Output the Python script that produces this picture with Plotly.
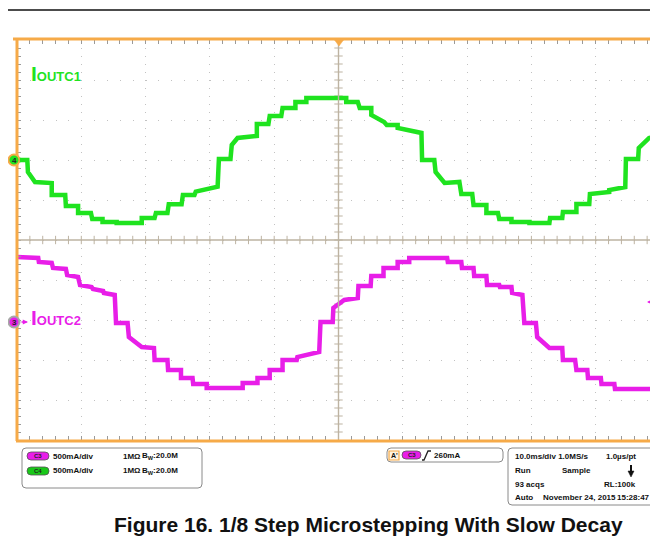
import numpy as np
import plotly.graph_objects as go

# ---------------- data (read from the scope capture) ----------------
# time in ms (10 ms/div, screen starts at 0), current in mA (500 mA/div)
t_c4 = [0, 1.6, 1.7, 2.8, 5.4, 5.4, 7.5, 7.6, 9.5, 9.5, 11.5, 11.7, 13.3, 13.3, 15.5, 15.5,
        19.4, 19.4, 21.4, 21.6, 23.4, 23.6, 25.6, 25.8, 27.6, 27.8, 31.2, 31.4, 33.2, 33.4,
        34.3, 37.3, 37.3, 39.1, 39.3, 41.1, 41.3, 43.3, 43.3, 45.0, 45.0, 47.4, 47.4, 49.4,
        49.4, 51.2, 51.2, 53.0, 53.3, 55.1, 55.1, 57.1, 57.5, 59.2, 59.2, 62.9, 63.0, 64.9,
        65.1, 66.5, 68.8, 69.1, 70.8, 71.0, 73.0, 73.0, 74.8, 75.0, 76.9, 76.9, 79.7, 79.7,
        82.8, 82.9, 84.8, 84.9, 87.0, 87.0, 89.0, 89.1, 92.1, 92.1, 94.6, 94.7, 96.6, 96.7,
        98.3, 99.7]
i_c4 = [0, 0, -150, -275, -288, -438, -438, -575, -575, -663, -663, -738, -738, -775, -775, -788,
        -788, -725, -725, -663, -663, -553, -553, -438, -438, -396, -333, 13, 13, 188,
        275, 300, 450, 450, 550, 550, 650, 650, 725, 725, 775, 775, 788, 788,
        775, 775, 725, 725, 650, 650, 563, 475, 438, 438, 400, 338, 0, 0,
        -150, -288, -275, -425, -425, -563, -563, -663, -663, -738, -738, -775, -775, -788,
        -788, -725, -725, -650, -650, -550, -550, -425, -400, -375, -338, 13, 13, 150,
        275, 300]

t_c3 = [0, 3.3, 3.4, 5.4, 5.6, 7.6, 7.8, 9.5, 9.8, 11.6, 11.8, 13.4, 13.5, 15.2, 15.4, 17.2,
        17.4, 19.4, 21.3, 21.4, 23.4, 23.5, 25.5, 25.5, 27.3, 27.4, 29.5, 29.5, 35.1, 35.1,
        37.4, 37.4, 39.3, 39.3, 41.3, 41.3, 43.5, 43.6, 47.0, 47.2, 49.1, 49.2, 50.9, 53.0,
        53.1, 55.0, 55.1, 57.0, 57.0, 59.2, 59.2, 61.0, 61.0, 63.4, 63.4, 65.7, 66.9, 67.0,
        69.1, 69.2, 71.0, 71.1, 73.0, 73.1, 75.0, 75.1, 76.9, 77.0, 78.6, 78.9, 80.7, 80.9,
        82.8, 84.8, 84.9, 86.8, 87.0, 88.7, 88.8, 90.8, 90.9, 92.9, 93.0, 98.8, 98.9, 99.7]
i_c3 = [813, 800, 750, 738, 675, 663, 588, 563, 463, 438, 413, 388, 363, 338, -13, -13,
        -188, -313, -325, -475, -475, -600, -600, -700, -700, -775, -775, -825, -825, -763,
        -763, -700, -700, -600, -600, -475, -475, -438, -375, 0, 0, 175, 275, 300,
        450, 450, 575, 575, 675, 675, 750, 750, 800, 800, 813, 813, 800, 750,
        750, 675, 675, 575, 575, 463, 463, 438, 438, 363, 338, -13, -13, -188,
        -325, -325, -475, -475, -600, -600, -700, -700, -775, -775, -838, -838, -763, -763]

trigger_level_ma = 260
channel_labels = ["I<span style='font-size:13px'>OUTC1</span>",
                  "I<span style='font-size:13px'>OUTC2</span>"]
caption = "Figure 16. 1/8 Step Microstepping With Slow Decay"

# ---------------- geometry / style ----------------
PAGE_OFF = 8                 # default body margin of the html page
SW, SH = 658, 550            # screen size
L, T, B = 17, 40, 440        # plot area on screen (px)
PX_PER_MS = 6.43
X_MAX = (SW - L) / PX_PER_MS
GREEN = '#1fe31f'
MAGENTA = '#e81ee8'
ORANGE = '#f6aa48'
CENTER = '#bdb3a2'
FONT = 'Liberation Sans'


def px(x):
    return (x - L) / (SW - L)


def py(y):
    return (B - y) / (B - T)


def rrect(x0, y0, x1, y1, r):
    X, Y = px, py
    return (f"M {X(x0 + r)},{Y(y0)} L {X(x1 - r)},{Y(y0)} Q {X(x1)},{Y(y0)} {X(x1)},{Y(y0 + r)} "
            f"L {X(x1)},{Y(y1 - r)} Q {X(x1)},{Y(y1)} {X(x1 - r)},{Y(y1)} L {X(x0 + r)},{Y(y1)} "
            f"Q {X(x0)},{Y(y1)} {X(x0)},{Y(y1 - r)} L {X(x0)},{Y(y0 + r)} Q {X(x0)},{Y(y0)} {X(x0 + r)},{Y(y0)} Z")


fig = go.Figure()

# center cross tick marks
tick_t = [v for v in np.arange(0, X_MAX, 2) if 0 < v < X_MAX]
fig.add_trace(go.Scatter(x=tick_t, y=[-1000] * len(tick_t), mode='markers', hoverinfo='skip',
                         marker=dict(symbol='line-ns', size=6, line=dict(width=1, color=CENTER)),
                         showlegend=False))
tick_i = [v for v in np.arange(-3500, 1501, 100) if -3500 < v < 1500]
fig.add_trace(go.Scatter(x=[50] * len(tick_i), y=tick_i, mode='markers', hoverinfo='skip',
                         marker=dict(symbol='line-ew', size=6, line=dict(width=1, color=CENTER)),
                         showlegend=False))

# waveforms
fig.add_trace(go.Scatter(x=t_c4, y=i_c4, mode='lines', line=dict(color=GREEN, width=4.5),
                         showlegend=False, yaxis='y'))
fig.add_trace(go.Scatter(x=t_c3, y=i_c3, mode='lines', line=dict(color=MAGENTA, width=4.5),
                         showlegend=False, yaxis='y2'))

shapes = []
annotations = []

# top black rule
shapes.append(dict(type='line', xref='paper', yref='paper', x0=px(PAGE_OFF), x1=px(SW), y0=py(10), y1=py(10),
                   line=dict(color='#111', width=1.6)))
# center cross
shapes.append(dict(type='line', xref='x', yref='paper', x0=50, x1=50, y0=0, y1=1,
                   line=dict(color=CENTER, width=1.4)))
shapes.append(dict(type='line', xref='paper', yref='y', x0=0, x1=1, y0=-1000, y1=-1000,
                   line=dict(color=CENTER, width=1.4)))
# orange frame (left, top, bottom)
shapes.append(dict(type='line', xref='paper', yref='paper', x0=px(13), x1=1, y0=py(39), y1=py(39),
                   line=dict(color=ORANGE, width=3)))
shapes.append(dict(type='line', xref='paper', yref='paper', x0=px(17), x1=px(17), y0=py(39), y1=py(441),
                   line=dict(color=ORANGE, width=3)))
shapes.append(dict(type='line', xref='paper', yref='paper', x0=px(16), x1=1, y0=py(441), y1=py(441),
                   line=dict(color=ORANGE, width=3)))

# channel ground markers (circles at the left edge)
shapes.append(dict(type='circle', xref='paper', yref='paper', x0=px(8.5), x1=px(19.5), y0=py(154.5), y1=py(165.5),
                   fillcolor=GREEN, line=dict(color=ORANGE, width=2)))
shapes.append(dict(type='circle', xref='paper', yref='paper', x0=px(8.5), x1=px(19.5), y0=py(316.5), y1=py(327.5),
                   fillcolor=MAGENTA, line=dict(color='#a8a8a8', width=2)))

# info boxes
for (x0, y0, x1, y1) in [(22, 448, 202, 488), (387, 448, 503, 462), (508, 448, 655, 505)]:
    shapes.append(dict(type='path', xref='paper', yref='paper', path=rrect(x0, y0, x1, y1, 4),
                       line=dict(color='#8a8a8a', width=1), fillcolor='white'))
# pills
for (x0, y0, x1, y1, c) in [(27, 452, 49, 460, MAGENTA), (27, 467, 49, 475, '#19c819'),
                            (402, 451, 421, 459, MAGENTA)]:
    shapes.append(dict(type='path', xref='paper', yref='paper', path=rrect(x0, y0, x1, y1, 4),
                       line=dict(color='#555', width=0.8), fillcolor=c))
# A' box
shapes.append(dict(type='rect', xref='paper', yref='paper', x0=px(389), x1=px(399), y0=py(451), y1=py(460),
                   line=dict(color=ORANGE, width=1.2), fillcolor='#fff4e0'))
# rising edge symbol
shapes.append(dict(type='path', xref='paper', yref='paper',
                   path=f"M {px(422)},{py(460)} L {px(424)},{py(460)} L {px(428)},{py(451)} L {px(431)},{py(451)}",
                   line=dict(color='#222', width=1.3)))
# down arrow (box 3)
shapes.append(dict(type='line', xref='paper', yref='paper', x0=px(631), x1=px(631), y0=py(465), y1=py(472),
                   line=dict(color='#111', width=2)))
shapes.append(dict(type='path', xref='paper', yref='paper',
                   path=f"M {px(628)},{py(471)} L {px(634)},{py(471)} L {px(631)},{py(477)} Z",
                   fillcolor='#111', line=dict(color='#111', width=0.5)))
# trigger position marker (top)
shapes.append(dict(type='path', xref='paper', yref='paper',
                   path=f"M {px(334.5)},{py(40)} L {px(343.5)},{py(40)} L {px(339)},{py(46)} Z",
                   fillcolor=ORANGE, line=dict(color=ORANGE, width=0.5)))


def text(x, y, s, size=8, color='#111', anchor='left', bold=True, family=FONT):
    annotations.append(dict(xref='paper', yref='paper', x=px(x), y=py(y), text=s, showarrow=False,
                            xanchor=anchor, yanchor='middle',
                            font=dict(size=size, color=color, family=family,
                                      weight='bold' if bold else 'normal')))


# channel labels
text(29, 74, channel_labels[0], size=21, color=GREEN)
text(29, 317, channel_labels[1], size=21, color=MAGENTA)
text(14, 160.5, '4', size=8, color='#222', anchor='center')
text(14, 322.5, '3', size=8, color='#222', anchor='center')

# arrows
annotations.append(dict(xref='paper', yref='paper', x=px(28), y=py(322), ax=-8, ay=0, text='',
                        showarrow=True, arrowhead=2, arrowsize=0.8, arrowwidth=1.3, arrowcolor=MAGENTA))
annotations.append(dict(xref='paper', yref='paper', x=px(25), y=py(160), ax=-4, ay=0, text='',
                        showarrow=True, arrowhead=2, arrowsize=0.8, arrowwidth=1.3, arrowcolor=GREEN))
annotations.append(dict(xref='paper', yref='y2', x=px(647), y=trigger_level_ma - 10, ax=12, ay=0, text='',
                        showarrow=True, arrowhead=2, arrowsize=0.8, arrowwidth=1.2, arrowcolor=MAGENTA))

# box 1
text(38, 456, 'C3', size=6, color='#222', anchor='center')
text(38, 471, 'C4', size=6, color='#222', anchor='center')
text(51, 456, '500mA/div')
text(51, 471, '500mA/div')
text(121, 456, '1MΩ')
text(121, 471, '1MΩ')
text(140, 456, 'B<sub>W</sub>:20.0M')
text(140, 471, 'B<sub>W</sub>:20.0M')
# box 2
text(394, 455.5, "A'", size=7, anchor='center')
text(411.5, 455, 'C3', size=6, color='#222', anchor='center')
text(432, 455, f'{trigger_level_ma}mA')
# box 3
text(513, 456, '10.0ms/div 1.0MS/s')
text(638, 456, '1.0µs/pt', anchor='right')
text(513, 470, 'Run')
text(560, 470, 'Sample')
text(513, 484, '93 acqs')
text(638, 484, 'RL:100k', anchor='right')
text(513, 497, 'Auto')
text(541, 497, 'November 24, 2015')
text(652, 497, '15:28:47', anchor='right')

# caption
text(368, 524, caption, size=21, anchor='center')

fig.update_layout(
    width=SW - PAGE_OFF, height=SH - PAGE_OFF, autosize=False,
    margin=dict(l=L - PAGE_OFF, r=0, t=T - PAGE_OFF, b=SH - B, pad=0),
    paper_bgcolor='white', plot_bgcolor='white',
    showlegend=False,
    shapes=shapes, annotations=annotations,
    xaxis=dict(range=[0, X_MAX], dtick=10, tick0=0, showgrid=True, gridcolor='#c2c2c2', gridwidth=1,
               griddash='1px,7px', zeroline=False, showticklabels=False, showline=False,
               ticks='inside', ticklen=4, tickcolor='#9a9a9a', mirror='allticks',
               minor=dict(dtick=2, tick0=0, ticks='inside', ticklen=4, tickcolor='#9a9a9a', showgrid=False),
               fixedrange=True),
    yaxis=dict(range=[-3500, 1500], dtick=500, tick0=0, showgrid=True, gridcolor='#c2c2c2', gridwidth=1,
               griddash='1px,11.86px', zeroline=False, showticklabels=False, showline=False,
               ticks='inside', ticklen=4, tickcolor='#9a9a9a', mirror='allticks',
               minor=dict(dtick=100, tick0=0, ticks='inside', ticklen=4, tickcolor='#9a9a9a', showgrid=False),
               fixedrange=True),
    yaxis2=dict(range=[-1475, 3525], overlaying='y', visible=False, fixedrange=True),
)

fig.write_html("out.html")
